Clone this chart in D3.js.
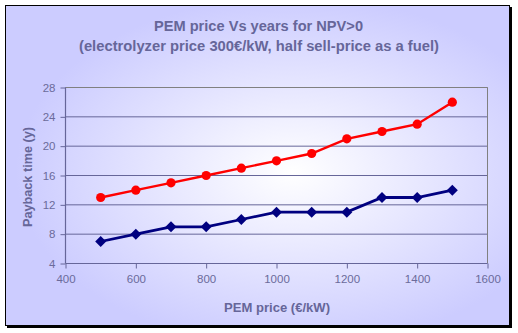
<!DOCTYPE html>
<html>
<head>
<meta charset="utf-8">
<script src="https://cdn.jsdelivr.net/npm/d3@7"></script>
<style>
  body { margin: 0; background: #fff; }
  svg { display: block; font-family: "Liberation Sans", Arial, sans-serif; }
</style>
</head>
<body>
<div class="content"></div>
<script>
// PEM price (€/kW) on x, payback years on y
var pemPrice = [500, 600, 700, 800, 900, 1000, 1100, 1200, 1300, 1400, 1500];
var paybackRed = [13, 14, 15, 16, 17, 18, 19, 21, 22, 23, 26];
var paybackBlue = [7, 8, 9, 9, 10, 11, 11, 11, 13, 13, 14];
var xTicks = [400, 600, 800, 1000, 1200, 1400, 1600];
var yTicks = [4, 8, 12, 16, 20, 24, 28];

var W = 518, H = 333;
var textColor = '#666699';

var svg = d3.select('.content').append('svg')
    .attr('width', W)
    .attr('height', H);

var defs = svg.append('defs');
var grad = defs.append('radialGradient')
    .attr('id', 'bg')
    .attr('cx', 0.57).attr('cy', 0.52).attr('r', 0.55);
grad.append('stop').attr('offset', '0%').attr('stop-color', '#ffffff');
grad.append('stop').attr('offset', '100%').attr('stop-color', '#ccccff');

// chart frame with a small drop shadow
svg.append('rect')
    .attr('x', 7).attr('y', 7)
    .attr('width', 505).attr('height', 321)
    .attr('fill', '#000');
svg.append('rect')
    .attr('x', 5.5).attr('y', 5.5)
    .attr('width', 504).attr('height', 320)
    .attr('fill', 'url(#bg)')
    .attr('stroke', '#000')
    .attr('stroke-width', 1);

var x = d3.scaleLinear().domain([400, 1600]).range([65.5, 487.5]);
var y = d3.scaleLinear().domain([4, 28]).range([263.5, 87.5]);

// gridlines
svg.append('g')
    .selectAll('line')
    .data(yTicks.slice(1))
    .enter().append('line')
    .attr('x1', x(400)).attr('x2', x(1600))
    .attr('y1', function(d) { return y(d); })
    .attr('y2', function(d) { return y(d); })
    .attr('stroke', textColor)
    .attr('stroke-width', 1);

// plot area border (top / right)
svg.append('path')
    .attr('d', 'M' + x(400) + ',' + y(28) + 'H' + x(1600) + 'V' + y(4))
    .attr('fill', 'none')
    .attr('stroke', '#808080');

var xAxis = svg.append('g')
    .attr('transform', 'translate(0,' + y(4) + ')')
    .call(d3.axisBottom(x).tickValues(xTicks).tickSize(5).tickPadding(6).tickFormat(d3.format('d')));
var yAxis = svg.append('g')
    .attr('transform', 'translate(' + x(400) + ',0)')
    .call(d3.axisLeft(y).tickValues(yTicks).tickSize(5).tickPadding(5).tickFormat(d3.format('d')));

[xAxis, yAxis].forEach(function(a) {
    a.select('.domain').attr('stroke', textColor).attr('stroke-width', 1.2);
    a.selectAll('.tick line').attr('stroke', textColor);
    a.selectAll('.tick text')
        .attr('fill', '#6b6b9b')
        .style('font-size', '11.5px')
        .style('font-family', '"Liberation Sans", Arial, sans-serif');
});
xAxis.select('.domain').attr('d', 'M' + x(400) + ',0H' + x(1600));
yAxis.select('.domain').attr('d', 'M0,' + y(4) + 'V' + y(28));

var line = d3.line()
    .x(function(d) { return x(d[0]); })
    .y(function(d) { return y(d[1]); });

var redData = d3.zip(pemPrice, paybackRed);
var blueData = d3.zip(pemPrice, paybackBlue);

svg.append('path')
    .datum(redData)
    .attr('d', line)
    .attr('fill', 'none')
    .attr('stroke', '#ff0000')
    .attr('stroke-width', 2.4);
svg.append('g').selectAll('circle')
    .data(redData)
    .enter().append('circle')
    .attr('cx', function(d) { return x(d[0]); })
    .attr('cy', function(d) { return y(d[1]); })
    .attr('r', 4.6)
    .attr('fill', '#ff0000');

svg.append('path')
    .datum(blueData)
    .attr('d', line)
    .attr('fill', 'none')
    .attr('stroke', '#000080')
    .attr('stroke-width', 2.8);
svg.append('g').selectAll('path')
    .data(blueData)
    .enter().append('path')
    .attr('transform', function(d) { return 'translate(' + x(d[0]) + ',' + y(d[1]) + ')'; })
    .attr('d', 'M0,-5.5L5.5,0L0,5.5L-5.5,0Z')
    .attr('fill', '#000080');

// titles
var title = svg.append('text')
    .attr('text-anchor', 'middle')
    .attr('fill', textColor)
    .style('font-weight', 'bold')
    .style('font-size', '14.5px');
title.append('tspan').attr('x', 258.5).attr('y', 31)
    .attr('textLength', 209).attr('lengthAdjust', 'spacingAndGlyphs')
    .text('PEM price Vs years for NPV>0');
title.append('tspan').attr('x', 259).attr('y', 51)
    .attr('textLength', 360).attr('lengthAdjust', 'spacingAndGlyphs')
    .text('(electrolyzer price 300€/kW, half sell-price as a fuel)');

svg.append('text')
    .attr('x', 277).attr('y', 312)
    .attr('text-anchor', 'middle')
    .attr('fill', textColor)
    .attr('textLength', 106).attr('lengthAdjust', 'spacingAndGlyphs')
    .style('font-weight', 'bold')
    .style('font-size', '13px')
    .text('PEM price (€/kW)');

svg.append('text')
    .attr('transform', 'translate(31.5,177) rotate(-90)')
    .attr('text-anchor', 'middle')
    .attr('fill', textColor)
    .attr('textLength', 100).attr('lengthAdjust', 'spacingAndGlyphs')
    .style('font-weight', 'bold')
    .style('font-size', '13px')
    .text('Payback time (y)');
</script>
</body>
</html>
